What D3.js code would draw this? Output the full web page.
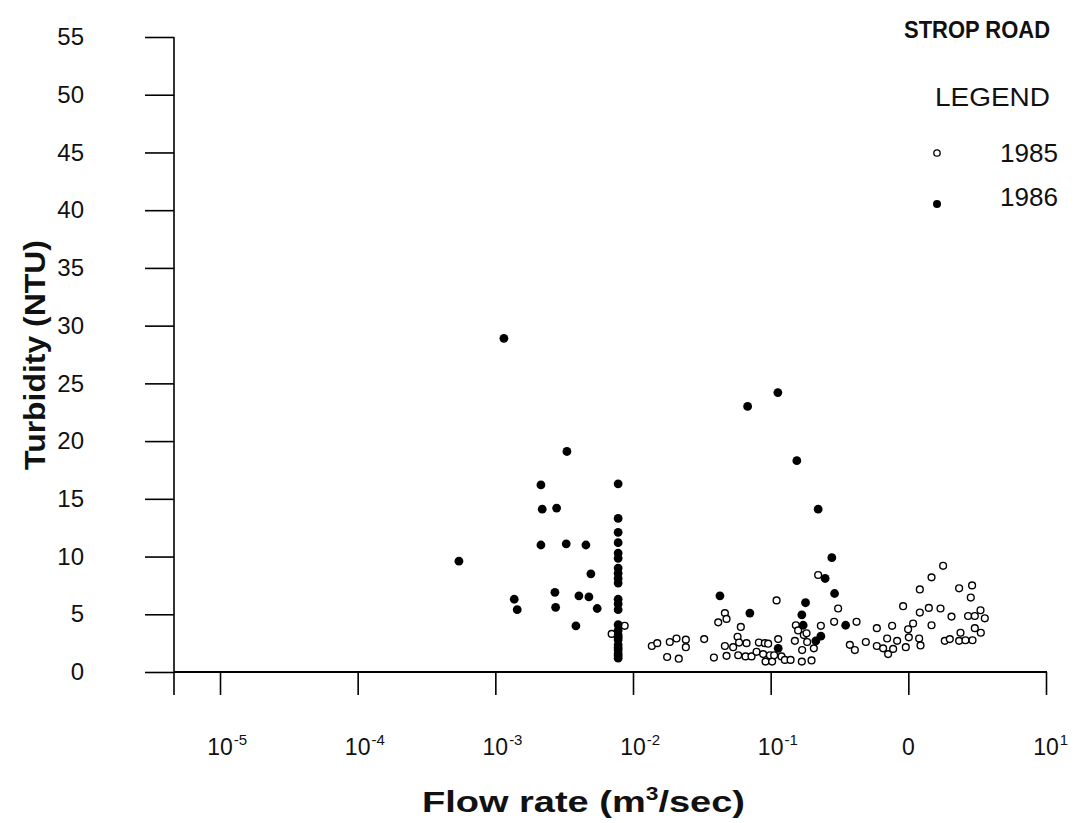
<!DOCTYPE html>
<html>
<head>
<meta charset="utf-8">
<script src="https://cdn.jsdelivr.net/npm/d3@7"></script>
<style>
  body { margin: 0; background: #fff; }
  svg { font-family: "Liberation Sans", Arial, sans-serif; }
</style>
</head>
<body>
<svg id="chart" width="1079" height="823"></svg>
<script>
// flow rate (m3/sec) and turbidity (NTU)
const flow1985 = [0.0070, 0.0087, 0.0137, 0.0150, 0.0185, 0.0207, 0.0242, 0.0242, 0.0177, 0.0215,
  0.0329, 0.0387, 0.0416, 0.0465, 0.0478, 0.0465, 0.0478, 0.0534, 0.0575, 0.0607,
  0.0590, 0.0581, 0.0657, 0.0668, 0.0726, 0.0790, 0.0821, 0.0882, 0.0907, 0.0959,
  0.0918, 0.0987, 0.1025, 0.1060, 0.1104, 0.1134, 0.1199, 0.1268, 0.1395, 0.1499,
  0.1524, 0.1583, 0.1693, 0.1684, 0.1742, 0.1822, 0.1841, 0.1981, 0.2059, 0.2213,
  0.2315, 0.3091, 0.2891, 0.3759, 0.4088, 0.4205, 0.4912, 0.5904, 0.5904, 0.6561,
  0.7131, 0.7015, 0.7627, 0.7755, 0.8291, 0.9165, 0.9587, 0.9963, 1.008, 1.083,
  1.198, 1.226, 1.212, 1.212, 1.409, 1.474, 1.474, 1.713, 1.789, 1.840,
  2.001, 2.059, 2.338, 2.393, 2.338, 2.601, 2.717, 2.905, 2.842, 2.925,
  3.040, 3.040, 3.344, 3.361, 3.593]
const turb1985 = [3.3, 4.0, 2.25, 2.5, 2.6, 2.9, 2.8, 2.15, 1.3, 1.15,
  2.85, 1.25, 4.3, 5.1, 4.6, 2.25, 1.4, 2.15, 3.05, 3.9,
  2.55, 1.45, 1.35, 2.5, 1.35, 1.75, 2.55, 1.55, 2.5, 2.45,
  0.9, 1.45, 0.9, 1.45, 6.2, 2.85, 1.35, 1.05, 1.05, 2.7,
  4.05, 3.6, 1.9, 0.9, 3.2, 3.35, 2.6, 1.0, 2.05, 8.4,
  4.0, 5.5, 4.35, 2.35, 1.9, 4.35, 2.6, 3.8, 2.25, 2.05,
  1.55, 2.9, 4.0, 2.0, 2.7, 5.7, 2.15, 3.7, 3.0, 4.2,
  2.9, 2.3, 5.15, 7.15, 5.55, 8.2, 4.05, 5.5, 9.2, 2.7,
  2.85, 4.8, 7.25, 3.4, 2.7, 2.75, 4.85, 7.5, 6.45, 2.75,
  4.85, 3.8, 5.35, 3.4, 4.65]

const flow1986 = [0.000544, 0.001154, 0.001372, 0.001442, 0.002144, 0.002191, 0.002144, 0.002709, 0.002741, 0.002787,
  0.003273, 0.003311, 0.003849, 0.004047, 0.004549, 0.004782, 0.004944, 0.005495,
  0.0078, 0.0078, 0.0078, 0.0078, 0.0078, 0.0078, 0.0078, 0.0078, 0.0078, 0.0078,
  0.0078, 0.0078, 0.0078, 0.0078, 0.0078, 0.0078, 0.0078, 0.0078, 0.0078, 0.0078,
  0.0078, 0.0078, 0.0078, 0.0078,
  0.0428, 0.0680, 0.0706, 0.1128, 0.1134, 0.1549, 0.1684, 0.1722, 0.1792, 0.2129,
  0.2213, 0.2315, 0.2487, 0.2782, 0.2913, 0.3504]
const turb1986 = [9.6, 28.9, 6.3, 5.4, 16.2, 14.1, 11.0, 6.9, 5.6, 14.2,
  11.1, 19.1, 4.0, 6.6, 11.0, 6.5, 8.5, 5.5,
  16.3, 13.3, 12.1, 11.2, 10.3, 9.85, 9.0, 8.55, 8.1, 7.7,
  6.3, 5.9, 5.4, 4.1, 3.6, 3.2, 2.8, 2.35, 1.9, 1.6,
  1.2, 3.0, 2.1, 1.4,
  6.6, 23.0, 5.1, 24.2, 2.05, 18.3, 4.95, 4.05, 6.0, 2.7,
  14.1, 3.1, 8.1, 9.9, 6.8, 4.05]

const yTicks = [0, 5, 10, 15, 20, 25, 30, 35, 40, 45, 50, 55]
const xTicks = [1e-5, 1e-4, 1e-3, 1e-2, 1e-1, 1, 10]
const xTickBase = ['10', '10', '10', '10', '10', '0', '10']
const xTickExp = ['-5', '-4', '-3', '-2', '-1', '', '1']

const svg = d3.select('#chart')
const plotLeft = 174, plotRight = 1046, plotTop = 37, plotBottom = 672
const ink = '#111'

const x = d3.scaleLog().domain([1e-5, 10]).range([220, plotRight])
const y = d3.scaleLinear().domain([0, 55]).range([plotBottom, plotTop])

// y axis
const yAxis = d3.axisLeft(y).tickValues(yTicks).tickSize(29).tickSizeOuter(0).tickPadding(61)
const yAxisG = svg.append('g').attr('transform', `translate(${plotLeft},0)`).call(yAxis)
yAxisG.select('.domain').remove()
yAxisG.selectAll('line').attr('stroke', '#000').attr('stroke-width', 1.6)
yAxisG.selectAll('text').attr('font-size', 24).attr('fill', ink)
  .attr('font-family', '"Liberation Sans", Arial, sans-serif')
svg.append('line').attr('x1', plotLeft).attr('x2', plotLeft).attr('y1', plotTop).attr('y2', plotBottom + 23)
  .attr('stroke', '#000').attr('stroke-width', 1.6)

// x axis
const xAxis = d3.axisBottom(x).tickValues(xTicks).tickSize(23).tickSizeOuter(0).tickFormat('')
const xAxisG = svg.append('g').attr('transform', `translate(0,${plotBottom})`).call(xAxis)
xAxisG.select('.domain').remove()
xAxisG.selectAll('line').attr('stroke', '#000').attr('stroke-width', 1.6)
svg.append('line').attr('x1', plotLeft).attr('x2', plotRight + 1).attr('y1', plotBottom).attr('y2', plotBottom)
  .attr('stroke', '#000').attr('stroke-width', 1.8)

xTicks.forEach((v, i) => {
  const base = svg.append('text').attr('x', x(v)).attr('y', 755)
    .attr('text-anchor', 'middle').attr('font-size', 23).attr('fill', ink)
    .text(xTickBase[i])
  if (xTickExp[i]) {
    const w = base.node().getComputedTextLength()
    svg.append('text').attr('x', x(v) + w / 2 + 1).attr('y', 745)
      .attr('font-size', 15).attr('fill', ink).text(xTickExp[i])
  }
})

// points
svg.append('g').selectAll('circle').data(flow1985).enter().append('circle')
  .attr('cx', (d) => x(d))
  .attr('cy', (d, i) => y(turb1985[i]))
  .attr('r', 3.4)
  .attr('fill', '#fff')
  .attr('stroke', '#000')
  .attr('stroke-width', 1.4)

svg.append('g').selectAll('circle').data(flow1986).enter().append('circle')
  .attr('cx', (d) => x(d))
  .attr('cy', (d, i) => y(turb1986[i]))
  .attr('r', 4.4)
  .attr('fill', '#000')

// titles
svg.append('text').attr('x', 422).attr('y', 812)
  .attr('font-size', 30).attr('font-weight', 'bold').attr('fill', ink)
  .attr('textLength', 323).attr('lengthAdjust', 'spacingAndGlyphs')
  .html('Flow rate (m<tspan font-size="18" dy="-12">3</tspan><tspan dy="12">/sec)</tspan>')

svg.append('text').attr('transform', 'translate(45,470) rotate(-90)')
  .attr('font-size', 30).attr('font-weight', 'bold').attr('fill', ink)
  .attr('textLength', 230).attr('lengthAdjust', 'spacingAndGlyphs')
  .text('Turbidity (NTU)')

svg.append('text').attr('x', 904).attr('y', 38)
  .attr('font-size', 24).attr('font-weight', 'bold').attr('fill', ink)
  .attr('textLength', 146).attr('lengthAdjust', 'spacingAndGlyphs')
  .text('STROP ROAD')

// legend
svg.append('text').attr('x', 935).attr('y', 106)
  .attr('font-size', 25).attr('fill', ink)
  .attr('textLength', 115).attr('lengthAdjust', 'spacingAndGlyphs')
  .text('LEGEND')
svg.append('circle').attr('cx', 937).attr('cy', 153).attr('r', 3.2)
  .attr('fill', '#fff').attr('stroke', '#000').attr('stroke-width', 1.3)
svg.append('text').attr('x', 1000).attr('y', 162)
  .attr('font-size', 25).attr('fill', ink)
  .attr('textLength', 58).attr('lengthAdjust', 'spacingAndGlyphs')
  .text('1985')
svg.append('circle').attr('cx', 937).attr('cy', 204).attr('r', 4)
  .attr('fill', '#000')
svg.append('text').attr('x', 1000).attr('y', 206)
  .attr('font-size', 25).attr('fill', ink)
  .attr('textLength', 58).attr('lengthAdjust', 'spacingAndGlyphs')
  .text('1986')
</script>
</body>
</html>
